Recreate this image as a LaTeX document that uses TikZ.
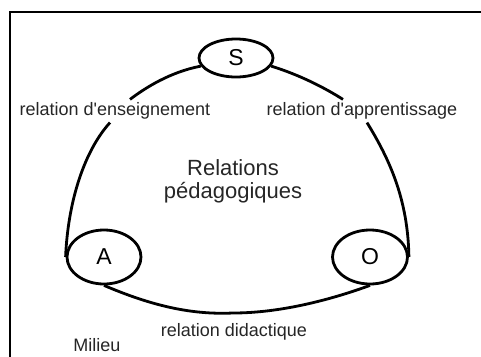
\documentclass[tikz,border=0pt]{standalone}
\usepackage{fontspec}
\setmainfont{Liberation Sans}
\usepackage{tikz}
\usetikzlibrary{shapes.geometric}

\begin{document}
\begin{tikzpicture}[x=1pt,y=-1pt,
  pole/.style={ellipse,draw,line width=2.8pt,inner sep=0pt,font=\fontsize{23}{23}\selectfont},
  rel/.style={inner sep=3pt,font=\fontsize{18}{20}\selectfont,text=black!85},
  link/.style={line width=2.8pt}
]
\useasboundingbox (0,0) rectangle (481,356);
\clip (0,0) rectangle (481,356);
\draw[line width=2.2pt] (10,370) -- (10,12) -- (495,12);

\node[pole,minimum width=74pt,minimum height=38pt] (S) at (236,58) {S};
\node[pole,minimum width=74pt,minimum height=54pt] (A) at (104,257) {A};
\node[pole,minimum width=75pt,minimum height=54pt] (O) at (370,257) {O};

\node[rel] (ens) at (115,111) {relation d\textquotesingle enseignement};
\node[rel] (app) at (362,111) {relation d\textquotesingle apprentissage};
\node[rel] (did) at (234,332) {relation didactique};
\node[rel] (mil) at (97,345) {Milieu};
\node[rel,align=center,font=\fontsize{22}{23}\selectfont] (ped) at (233,181) {Relations\\pédagogiques};

\draw[link] (S.193) .. controls (170,72) and (145,88) .. ([xshift=15pt]ens.north);
\draw[link] (S.-13) .. controls (300,75) and (325,88) .. ([xshift=-19pt]app.north);
\draw[link] ([xshift=-5pt]ens.south) .. controls (85,150) and (68,200) .. (A.west);
\draw[link] ([xshift=5pt]app.south) .. controls (390,160) and (408,200) .. (O.east);
\draw[link] (A.south) .. controls (150,305) and (190,315) .. (233,313)
  .. controls (280,313) and (330,300) .. (O.south);
\end{tikzpicture}
\end{document}
